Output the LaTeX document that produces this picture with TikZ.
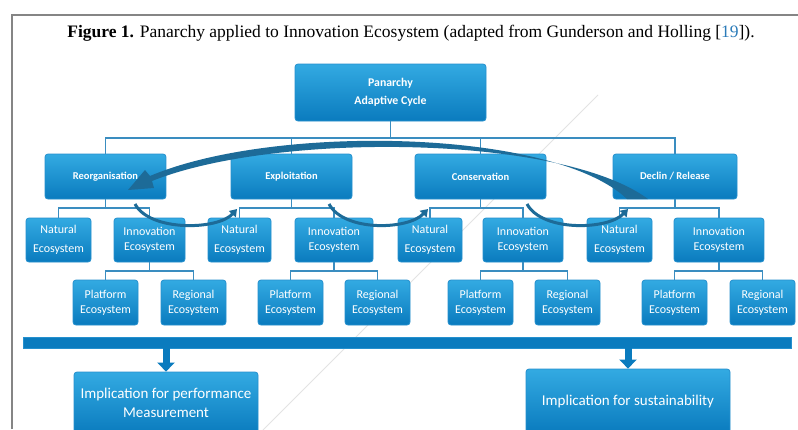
\documentclass[tikz,border=0pt]{standalone}
\usepackage{fontspec}
\setmainfont{Liberation Serif}
\setsansfont{Carlito}
\usetikzlibrary{arrows.meta}
\definecolor{bxtop}{HTML}{33AAE2}
\definecolor{bxbot}{HTML}{0A7BBE}
\definecolor{bxedge}{HTML}{2590CE}
\definecolor{connc}{HTML}{3A8DC0}
\definecolor{arcc}{HTML}{1D6B98}
\definecolor{framec}{HTML}{858585}
\definecolor{citec}{HTML}{2B7BB9}
\tikzset{
  bx/.style={draw=bxedge, line width=0.8pt, rounded corners=3pt, top color=bxtop, bottom color=bxbot, text=white, align=center, inner sep=1pt},
  lvtwo/.style={bx, minimum height=45pt, font=\sffamily\bfseries\fontsize{10.5}{12}\selectfont},
  lvthree/.style={bx, minimum height=44pt, font=\sffamily\fontsize{12}{15}\selectfont},
  natbox/.style={bx, minimum height=44pt, font=\sffamily\fontsize{12}{19}\selectfont},
  lvfour/.style={bx, minimum height=45pt, minimum width=65pt, font=\sffamily\fontsize{12}{15}\selectfont},
  implbox/.style={bx, font=\sffamily\fontsize{15}{19}\selectfont},
  conn/.style={draw=connc, line width=1.1pt},
  cyc/.style={draw=arcc, line width=3pt, -{Triangle[length=7pt,width=9pt]}},
  downarrow/.style={draw=bxbot, line width=7pt, -{Triangle[length=9pt,width=17pt]}},
}
\begin{document}
\begin{tikzpicture}[x=1pt,y=-1pt]
\clip (0,0) rectangle (798,429);
\fill[white] (0,0) rectangle (798,429);
% frame
\draw[framec, line width=2pt] (12,429) -- (12,15) -- (800,15);
% faint scan line
\draw[gray!22, line width=1pt] (598,95) -- (263,430);
% title
\node[font=\fontsize{17.5}{19}\selectfont] (title) at (411,33) {\textbf{Figure 1.} Panarchy applied to Innovation Ecosystem (adapted from Gunderson and Holling [{\color{citec}19}]).};

% top
\node[bx, minimum width=191pt, minimum height=57pt, font=\sffamily\bfseries\fontsize{11.8}{18}\selectfont] (pan) at (390.5,92.5) {Panarchy\\Adaptive Cycle};

% level 2
\node[lvtwo, minimum width=121pt] (reo) at (105.5,176.5) {Reorganisation};
\node[lvtwo, minimum width=121pt] (exp) at (291.5,176.5) {Exploitation};
\node[lvtwo, minimum width=131pt] (con) at (480.5,176.5) {Conservation};
\node[lvtwo, minimum width=124pt] (dec) at (675,176.5) {Declin / Release};

% level 3
\node[natbox, minimum width=65pt] (n1) at (58.5,240) {Natural\\Ecosystem};
\node[lvthree, minimum width=71pt] (i1) at (149.5,240) {Innovation\\Ecosystem};
\node[natbox, minimum width=63pt] (n2) at (239.5,240) {Natural\\Ecosystem};
\node[lvthree, minimum width=78pt] (i2) at (334,240) {Innovation\\Ecosystem};
\node[natbox, minimum width=64pt] (n3) at (430,240) {Natural\\Ecosystem};
\node[lvthree, minimum width=80pt] (i3) at (523,240) {Innovation\\Ecosystem};
\node[natbox, minimum width=65pt] (n4) at (619.5,240) {Natural\\Ecosystem};
\node[lvthree, minimum width=90pt] (i4) at (719,240) {Innovation\\Ecosystem};

% level 4
\node[lvfour] (p1) at (105.5,302.5) {Platform\\Ecosystem};
\node[lvfour] (r1) at (193.5,302.5) {Regional\\Ecosystem};
\node[lvfour] (p2) at (290.5,302.5) {Platform\\Ecosystem};
\node[lvfour] (r2) at (377.5,302.5) {Regional\\Ecosystem};
\node[lvfour] (p3) at (480.5,302.5) {Platform\\Ecosystem};
\node[lvfour] (r3) at (567.5,302.5) {Regional\\Ecosystem};
\node[lvfour] (p4) at (674.5,302.5) {Platform\\Ecosystem};
\node[lvfour] (r4) at (762.5,302.5) {Regional\\Ecosystem};

% bar and implication boxes
\node[draw=bxedge, fill=bxbot, minimum width=768pt, minimum height=11pt, inner sep=0pt] (bar) at (407,342.5) {};
\node[implbox, minimum width=184pt, minimum height=62pt] (m1) at (166,403) {Implication for performance\\Measurement};
\node[implbox, minimum width=204pt, minimum height=64pt] (m2) at (628,401) {Implication for sustainability};

% connectors
\coordinate (busA) at (0,138);
\draw[conn] (pan.south) -- (pan.south |- busA);
\draw[conn] (reo.north) -- (reo.north |- busA) -- (dec.north |- busA) -- (dec.north);
\draw[conn] (exp.north) -- (exp.north |- busA);
\draw[conn] (con.north) -- (con.north |- busA);

\coordinate (busB) at (0,208);
\foreach \pa/\na/\iv in {reo/n1/i1, exp/n2/i2, con/n3/i3, dec/n4/i4}{
  \draw[conn] (\pa.south) -- (\pa.south |- busB);
  \draw[conn] (\na.north) -- (\na.north |- busB) -- (\iv.north |- busB) -- (\iv.north);
}
\coordinate (busC) at (0,271);
\foreach \iv/\pp/\rr in {i1/p1/r1, i2/p2/r2, i3/p3/r3, i4/p4/r4}{
  \draw[conn] (\iv.south) -- (\iv.south |- busC);
  \draw[conn] (\pp.north) -- (\pp.north |- busC) -- (\rr.north |- busC) -- (\rr.north);
}

% down arrows
\draw[downarrow] (bar.south -| m1.north) -- (m1.north);
\draw[downarrow] (bar.south -| m2.north) -- (m2.north);

% adaptive cycle arcs
\fill[arcc] (627,199) .. controls (552,128) and (272,124) .. (150,176)
  -- (145,170) -- (128,190) -- (154,188) -- (152,181)
  .. controls (274,132) and (560,134) .. (648,199) -- cycle;
\draw[cyc] (135,204) .. controls (150,232) and (218,230) .. (237,209);
\draw[cyc] (329,204) .. controls (344,232) and (408,230) .. (428,209);
\draw[cyc] (527,204) .. controls (542,232) and (608,230) .. (628,209);
\end{tikzpicture}
\end{document}
